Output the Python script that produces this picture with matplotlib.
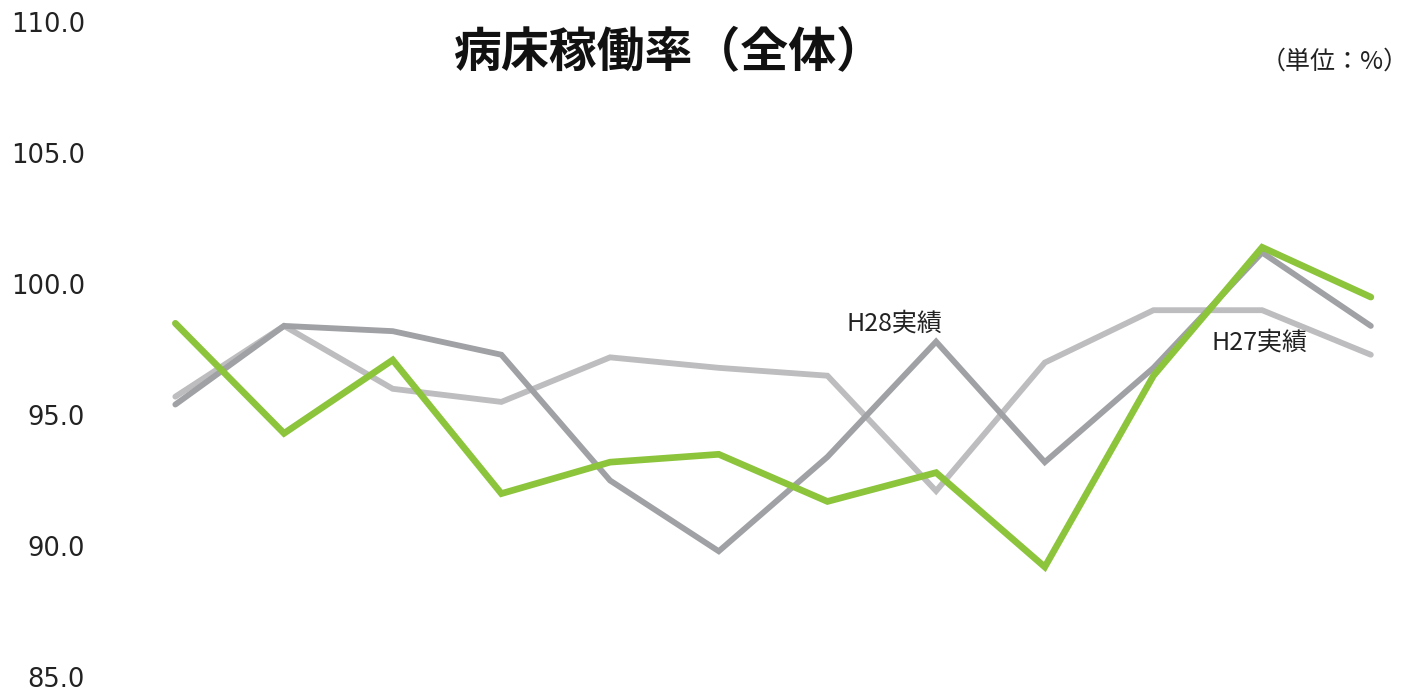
import numpy as np
import matplotlib.pyplot as plt

plt.rcParams['font.family'] = ['Noto Sans CJK JP', 'DejaVu Sans']

# 月ごとの病床稼働率 (4月〜3月)
months = ['4月', '5月', '6月', '7月', '8月', '9月', '10月', '11月', '12月', '1月', '2月', '3月']
current = [98.5, 94.3, 97.1, 92.0, 93.2, 93.5, 91.7, 92.8, 89.2, 96.5, 101.4, 99.5]
h28 = [95.4, 98.4, 98.2, 97.3, 92.5, 89.8, 93.4, 97.8, 93.2, 96.8, 101.2, 98.4]
h27 = [95.7, 98.4, 96.0, 95.5, 97.2, 96.8, 96.5, 92.1, 97.0, 99.0, 99.0, 97.3]

yticks = [85, 90, 95, 100, 105, 110]

fig = plt.figure(figsize=(14.23, 6.98), dpi=100)
ax = fig.add_axes([121 / 1423, 1 - 677 / 698, 1302 / 1423, (677 - 22) / 698])

x = np.arange(len(months))
ax.plot(x, h27, color='#bdbdbf', lw=4.2, solid_capstyle='round', solid_joinstyle='miter')
ax.plot(x, h28, color='#a0a1a5', lw=4.2, solid_capstyle='round', solid_joinstyle='miter')
ax.plot(x, current, color='#8cc43c', lw=4.8, solid_capstyle='round', solid_joinstyle='miter')

ax.set_xlim(-0.5, 11.48)
ax.set_ylim(85, 110)
ax.set_yticks(yticks)
ax.set_yticklabels([f'{v:.1f}' for v in yticks], fontsize=18.5, color='#222222',
                   family=['DejaVu Sans'])
ax.tick_params(axis='y', length=0, pad=26)
ax.set_xticks([])
for s in ax.spines.values():
    s.set_visible(False)

ax.text(6.62, 98.5, 'H28実績', fontsize=18, color='#222222', ha='center', va='center')
ax.text(9.98, 97.75, 'H27実績', fontsize=18, color='#222222', ha='center', va='center')

fig.text(668 / 1423, 1 - 53 / 698, '病床稼働率（全体）', fontsize=34.5, fontweight='bold',
         ha='center', va='center', color='#111111')
fig.text(1409 / 1423, 1 - 62 / 698, '（単位：%）', fontsize=18, ha='right', va='center',
         color='#222222')

fig.savefig('out.png', dpi=100)
